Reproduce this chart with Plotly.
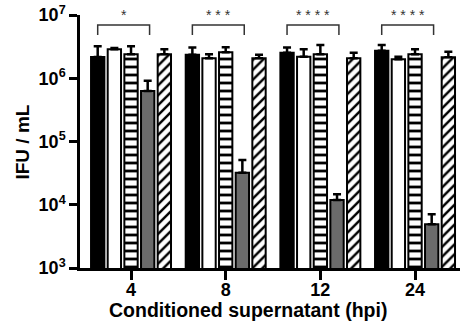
import plotly.graph_objects as go

categories = ["4", "8", "12", "24"]
series_names = ["Black", "White", "Checkered", "Gray", "Hatched"]

black_vals = [2.17e6, 2.35e6, 2.54e6, 2.73e6]
black_err = [3.2e6, 3.05e6, 3.05e6, 3.36e6]
white_vals = [2.87e6, 2.07e6, 2.19e6, 2.0e6]
white_err = [3.0e6, 2.4e6, 2.87e6, 2.19e6]
check_vals = [2.4e6, 2.57e6, 2.4e6, 2.4e6]
check_err = [3.2e6, 3.1e6, 3.36e6, 2.87e6]
gray_vals = [6.3e5, 3.2e4, 1.19e4, 4.9e3]
gray_err = [9.1e5, 5.1e4, 1.46e4, 7.1e3]
hatch_vals = [2.4e6, 2.07e6, 2.07e6, 2.14e6]
hatch_err = [2.87e6, 2.35e6, 2.54e6, 2.63e6]

stars = ["*", "* * *", "* * * *", "* * * *"]
ytick_vals = [1e3, 1e4, 1e5, 1e6, 1e7]
ytick_exps = ["3", "4", "5", "6", "7"]
ytick_text = [f"10<sup>{e}</sup>" for e in ytick_exps]

FONT = "Liberation Sans"
BARGAP = 0.12
xpos = list(range(len(categories)))

fig = go.Figure()

styles = [
    dict(color="black", pattern=None),
    dict(color="white", pattern=None),
    dict(color="white", pattern=dict(shape="-", fgcolor="black", bgcolor="white", size=8, solidity=0.35, fillmode="replace")),
    dict(color="#6b6b6b", pattern=None),
    dict(color="white", pattern=dict(shape="/", fgcolor="black", bgcolor="white", size=7, solidity=0.35, fillmode="replace")),
]
all_vals = [black_vals, white_vals, check_vals, gray_vals, hatch_vals]
all_errs = [black_err, white_err, check_err, gray_err, hatch_err]

for name, vals, errs, st in zip(series_names, all_vals, all_errs, styles):
    marker = dict(color=st["color"], line=dict(color="black", width=2))
    if st["pattern"]:
        marker["pattern"] = st["pattern"]
    fig.add_trace(go.Bar(
        x=xpos, y=vals, name=name, marker=marker,
        error_y=dict(type="data", symmetric=False,
                     array=[e - v for e, v in zip(errs, vals)],
                     arrayminus=[0] * len(vals),
                     color="black", thickness=2.5, width=4),
        showlegend=False,
    ))

# significance brackets between first and fourth bar of each group
nser = len(series_names)
slot = (1 - BARGAP) / nser
off_first = -(1 - BARGAP) / 2 + slot * 0.5
off_fourth = -(1 - BARGAP) / 2 + slot * 3.5
y_top = 1 - 10 / 253
y_bot = 1 - 20 / 253
for xi, s in zip(xpos, stars):
    x0 = xi + off_first
    x1 = xi + off_fourth + 0.02
    fig.add_shape(type="path",
                  path=f"M {x0},{y_bot} L {x0},{y_top} L {x1},{y_top} L {x1},{y_bot}",
                  xref="x", yref="paper", line=dict(color="#333333", width=1.5))
    fig.add_annotation(x=(x0 + x1) / 2, y=1.0, xref="x", yref="paper", text=s,
                       showarrow=False, yanchor="middle",
                       font=dict(family=FONT, size=14, color="#333333"))

# axis titles as annotations
fig.add_annotation(x=-0.15, y=0.496, xref="paper", yref="paper", text="<b>IFU / mL</b>",
                   textangle=-90, showarrow=False, xanchor="center", yanchor="middle",
                   font=dict(family=FONT, size=19, color="black"))
fig.add_annotation(x=0.4408, y=-0.166, xref="paper", yref="paper",
                   text="<b>Conditioned supernatant (hpi)</b>",
                   showarrow=False, xanchor="center", yanchor="middle",
                   font=dict(family=FONT, size=19.5, color="black"))

fig.update_layout(
    width=461, height=331,
    margin=dict(l=80, r=1, t=15, b=63, autoexpand=False),
    paper_bgcolor="white", plot_bgcolor="white",
    barmode="group", bargap=BARGAP, bargroupgap=0.2,
    font=dict(family=FONT, color="black"),
)
fig.update_xaxes(
    tickvals=xpos, ticktext=categories, range=[-0.539, 3.475],
    showline=True, linecolor="black", linewidth=2.5,
    ticks="outside", ticklen=9, tickwidth=2.5, tickcolor="black",
    tickfont=dict(family=FONT, size=18, weight="bold"),
    ticklabelstandoff=-5, ticklabeloverflow="allow",
    automargin=False,
    showgrid=False, zeroline=False,
)
fig.update_yaxes(
    type="log", range=[3, 7], tickvals=ytick_vals, ticktext=ytick_text,
    showline=True, linecolor="black", linewidth=2.5,
    ticks="outside", ticklen=8, tickwidth=2.5, tickcolor="black",
    tickfont=dict(family=FONT, size=18, weight="bold"),
    ticklabeloverflow="allow",
    automargin=False,
    showgrid=False, zeroline=False,
)

# remove the browser's default 8px body margin so the figure fills the window
fig.write_html("out.html", config={"displayModeBar": False},
               post_script="document.body.style.margin='0';")
